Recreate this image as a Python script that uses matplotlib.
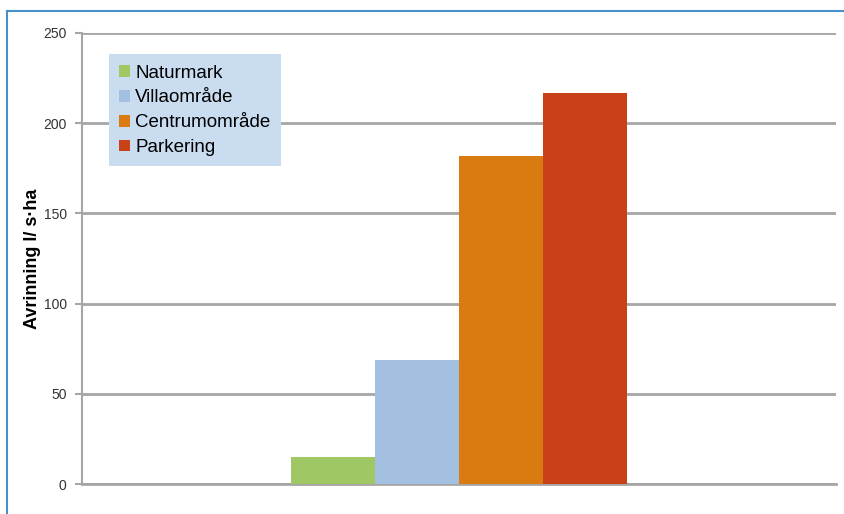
import matplotlib.pyplot as plt
from matplotlib.lines import Line2D
import numpy as np

plt.rcParams['font.family'] = ['Liberation Sans', 'DejaVu Sans']

# data
series = ['Naturmark', 'Villaområde', 'Centrumområde', 'Parkering']
values = [15, 69, 182, 217]
colors = ['#9fc764', '#a4c0e0', '#d97b10', '#c84118']

fig = plt.figure(figsize=(8.44, 5.14), dpi=100)
ax = fig.add_axes([82/844, 1-484/514, (836-82)/844, (484-33)/514])

width = 0.1114
offsets = (np.arange(len(series)) - 1.5) * width
for off, v, c, name in zip(offsets, values, colors, series):
    ax.bar(off, v, width=width, color=c, label=name, zorder=3)

ax.set_xlim(-0.5, 0.5)
ax.set_ylim(0, 250)
ax.set_yticks([0, 50, 100, 150, 200, 250])
ax.set_xticks([])
ax.yaxis.grid(True, color='#a6a6a6', linewidth=2, zorder=0)
ax.set_axisbelow(True)
for s in ['top', 'right']:
    ax.spines[s].set_visible(False)
ax.spines['left'].set_color('#a6a6a6')
ax.spines['left'].set_linewidth(1.5)
ax.spines['bottom'].set_color('#a6a6a6')
ax.spines['bottom'].set_linewidth(2)
ax.tick_params(axis='y', colors='#a6a6a6', length=5, width=1.5, pad=6,
               labelsize=10, labelcolor='#333333')

ax.set_ylabel('Avrinning l/ s·ha', fontsize=13, fontweight='bold')
ax.yaxis.set_label_coords(-0.054, 0.5)

leg = ax.legend(loc='upper left', bbox_to_anchor=(0.036, 0.953), fontsize=13.5,
                frameon=True, fancybox=False, handlelength=0.55, handleheight=0.6,
                handletextpad=0.3, labelspacing=0.42, borderpad=0.55,
                borderaxespad=0)
leg.get_frame().set_facecolor('#c9dcf0')
leg.get_frame().set_edgecolor('none')
leg.get_frame().set_alpha(1)

# blue frame around the chart area (top and left visible)
fig.add_artist(Line2D([7/844, 1], [1-11/514, 1-11/514], color='#4a90c8', linewidth=1.5))
fig.add_artist(Line2D([7/844, 7/844], [0, 1-11/514], color='#4a90c8', linewidth=1.5))

fig.savefig('out.png', dpi=100)
